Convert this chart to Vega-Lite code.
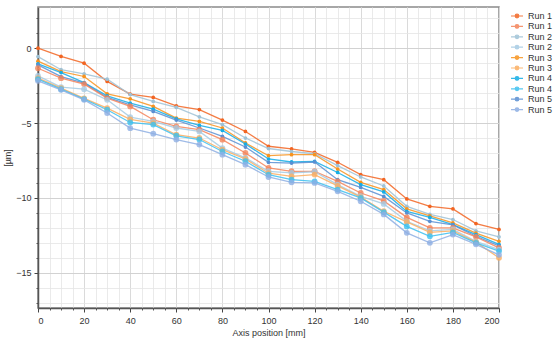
{
  "$schema": "https://vega.github.io/schema/vega-lite/v6.json",
  "width": 461,
  "height": 301,
  "autosize": {"type": "none"},
  "padding": {"left": 38, "top": 7, "right": 55, "bottom": 30},
  "background": "white",
  "config": {
    "view": {"stroke": "#8a8a8a", "strokeWidth": 1.5},
    "font": "Liberation Sans"
  },
  "datasets": {
    "runs": [
      {"run": "Run 1 (a)", "v": "a", "ys": [0, -0.55, -1.0, -2.22, -3.07, -3.29, -3.85, -4.1, -4.8, -5.56, -6.55, -6.73, -6.96, -7.62, -8.44, -8.78, -10.07, -10.56, -10.73, -11.71, -12.1]}
    ]
  },
  "data": {"values": [
    {"run":"Run 1 (a)","v":"a","x":0,"y":0},{"run":"Run 1 (a)","v":"a","x":10,"y":-0.55},{"run":"Run 1 (a)","v":"a","x":20,"y":-1.0},{"run":"Run 1 (a)","v":"a","x":30,"y":-2.22},{"run":"Run 1 (a)","v":"a","x":40,"y":-3.07},{"run":"Run 1 (a)","v":"a","x":50,"y":-3.29},{"run":"Run 1 (a)","v":"a","x":60,"y":-3.85},{"run":"Run 1 (a)","v":"a","x":70,"y":-4.1},{"run":"Run 1 (a)","v":"a","x":80,"y":-4.8},{"run":"Run 1 (a)","v":"a","x":90,"y":-5.56},{"run":"Run 1 (a)","v":"a","x":100,"y":-6.55},{"run":"Run 1 (a)","v":"a","x":110,"y":-6.73},{"run":"Run 1 (a)","v":"a","x":120,"y":-6.96},{"run":"Run 1 (a)","v":"a","x":130,"y":-7.62},{"run":"Run 1 (a)","v":"a","x":140,"y":-8.44},{"run":"Run 1 (a)","v":"a","x":150,"y":-8.78},{"run":"Run 1 (a)","v":"a","x":160,"y":-10.07},{"run":"Run 1 (a)","v":"a","x":170,"y":-10.56},{"run":"Run 1 (a)","v":"a","x":180,"y":-10.73},{"run":"Run 1 (a)","v":"a","x":190,"y":-11.71},{"run":"Run 1 (a)","v":"a","x":200,"y":-12.1},
    {"run":"Run 2 (a)","v":"a","x":0,"y":-0.56},{"run":"Run 2 (a)","v":"a","x":10,"y":-1.44},{"run":"Run 2 (a)","v":"a","x":20,"y":-1.71},{"run":"Run 2 (a)","v":"a","x":30,"y":-2.07},{"run":"Run 2 (a)","v":"a","x":40,"y":-3.1},{"run":"Run 2 (a)","v":"a","x":50,"y":-3.56},{"run":"Run 2 (a)","v":"a","x":60,"y":-3.96},{"run":"Run 2 (a)","v":"a","x":70,"y":-4.58},{"run":"Run 2 (a)","v":"a","x":80,"y":-5.11},{"run":"Run 2 (a)","v":"a","x":90,"y":-6.0},{"run":"Run 2 (a)","v":"a","x":100,"y":-6.7},{"run":"Run 2 (a)","v":"a","x":110,"y":-6.9},{"run":"Run 2 (a)","v":"a","x":120,"y":-7.05},{"run":"Run 2 (a)","v":"a","x":130,"y":-7.84},{"run":"Run 2 (a)","v":"a","x":140,"y":-8.6},{"run":"Run 2 (a)","v":"a","x":150,"y":-9.2},{"run":"Run 2 (a)","v":"a","x":160,"y":-10.56},{"run":"Run 2 (a)","v":"a","x":170,"y":-11.1},{"run":"Run 2 (a)","v":"a","x":180,"y":-11.44},{"run":"Run 2 (a)","v":"a","x":190,"y":-12.2},{"run":"Run 2 (a)","v":"a","x":200,"y":-12.6},
    {"run":"Run 3 (a)","v":"a","x":0,"y":-0.87},{"run":"Run 3 (a)","v":"a","x":10,"y":-1.56},{"run":"Run 3 (a)","v":"a","x":20,"y":-1.89},{"run":"Run 3 (a)","v":"a","x":30,"y":-3.05},{"run":"Run 3 (a)","v":"a","x":40,"y":-3.38},{"run":"Run 3 (a)","v":"a","x":50,"y":-3.89},{"run":"Run 3 (a)","v":"a","x":60,"y":-4.67},{"run":"Run 3 (a)","v":"a","x":70,"y":-4.89},{"run":"Run 3 (a)","v":"a","x":80,"y":-5.33},{"run":"Run 3 (a)","v":"a","x":90,"y":-6.33},{"run":"Run 3 (a)","v":"a","x":100,"y":-7.18},{"run":"Run 3 (a)","v":"a","x":110,"y":-7.11},{"run":"Run 3 (a)","v":"a","x":120,"y":-7.11},{"run":"Run 3 (a)","v":"a","x":130,"y":-8.07},{"run":"Run 3 (a)","v":"a","x":140,"y":-8.96},{"run":"Run 3 (a)","v":"a","x":150,"y":-9.44},{"run":"Run 3 (a)","v":"a","x":160,"y":-10.73},{"run":"Run 3 (a)","v":"a","x":170,"y":-11.2},{"run":"Run 3 (a)","v":"a","x":180,"y":-11.67},{"run":"Run 3 (a)","v":"a","x":190,"y":-12.35},{"run":"Run 3 (a)","v":"a","x":200,"y":-12.9},
    {"run":"Run 4 (a)","v":"a","x":0,"y":-1.05},{"run":"Run 4 (a)","v":"a","x":10,"y":-1.63},{"run":"Run 4 (a)","v":"a","x":20,"y":-2.3},{"run":"Run 4 (a)","v":"a","x":30,"y":-3.18},{"run":"Run 4 (a)","v":"a","x":40,"y":-3.67},{"run":"Run 4 (a)","v":"a","x":50,"y":-4.07},{"run":"Run 4 (a)","v":"a","x":60,"y":-4.72},{"run":"Run 4 (a)","v":"a","x":70,"y":-5.16},{"run":"Run 4 (a)","v":"a","x":80,"y":-5.49},{"run":"Run 4 (a)","v":"a","x":90,"y":-6.4},{"run":"Run 4 (a)","v":"a","x":100,"y":-7.4},{"run":"Run 4 (a)","v":"a","x":110,"y":-7.6},{"run":"Run 4 (a)","v":"a","x":120,"y":-7.56},{"run":"Run 4 (a)","v":"a","x":130,"y":-8.3},{"run":"Run 4 (a)","v":"a","x":140,"y":-9.11},{"run":"Run 4 (a)","v":"a","x":150,"y":-9.6},{"run":"Run 4 (a)","v":"a","x":160,"y":-10.9},{"run":"Run 4 (a)","v":"a","x":170,"y":-11.3},{"run":"Run 4 (a)","v":"a","x":180,"y":-11.78},{"run":"Run 4 (a)","v":"a","x":190,"y":-12.45},{"run":"Run 4 (a)","v":"a","x":200,"y":-13.1},
    {"run":"Run 5 (a)","v":"a","x":0,"y":-1.12},{"run":"Run 5 (a)","v":"a","x":10,"y":-1.9},{"run":"Run 5 (a)","v":"a","x":20,"y":-2.33},{"run":"Run 5 (a)","v":"a","x":30,"y":-3.29},{"run":"Run 5 (a)","v":"a","x":40,"y":-3.78},{"run":"Run 5 (a)","v":"a","x":50,"y":-4.22},{"run":"Run 5 (a)","v":"a","x":60,"y":-4.8},{"run":"Run 5 (a)","v":"a","x":70,"y":-5.33},{"run":"Run 5 (a)","v":"a","x":80,"y":-5.89},{"run":"Run 5 (a)","v":"a","x":90,"y":-6.6},{"run":"Run 5 (a)","v":"a","x":100,"y":-7.62},{"run":"Run 5 (a)","v":"a","x":110,"y":-7.67},{"run":"Run 5 (a)","v":"a","x":120,"y":-7.6},{"run":"Run 5 (a)","v":"a","x":130,"y":-8.78},{"run":"Run 5 (a)","v":"a","x":140,"y":-9.3},{"run":"Run 5 (a)","v":"a","x":150,"y":-9.9},{"run":"Run 5 (a)","v":"a","x":160,"y":-11.0},{"run":"Run 5 (a)","v":"a","x":170,"y":-11.56},{"run":"Run 5 (a)","v":"a","x":180,"y":-11.8},{"run":"Run 5 (a)","v":"a","x":190,"y":-12.56},{"run":"Run 5 (a)","v":"a","x":200,"y":-13.2},
    {"run":"Run 1 (b)","v":"b","x":0,"y":-1.34},{"run":"Run 1 (b)","v":"b","x":10,"y":-2.0},{"run":"Run 1 (b)","v":"b","x":20,"y":-2.4},{"run":"Run 1 (b)","v":"b","x":30,"y":-3.33},{"run":"Run 1 (b)","v":"b","x":40,"y":-3.89},{"run":"Run 1 (b)","v":"b","x":50,"y":-4.78},{"run":"Run 1 (b)","v":"b","x":60,"y":-5.22},{"run":"Run 1 (b)","v":"b","x":70,"y":-5.44},{"run":"Run 1 (b)","v":"b","x":80,"y":-6.11},{"run":"Run 1 (b)","v":"b","x":90,"y":-7.0},{"run":"Run 1 (b)","v":"b","x":100,"y":-8.0},{"run":"Run 1 (b)","v":"b","x":110,"y":-8.22},{"run":"Run 1 (b)","v":"b","x":120,"y":-8.22},{"run":"Run 1 (b)","v":"b","x":130,"y":-8.9},{"run":"Run 1 (b)","v":"b","x":140,"y":-9.67},{"run":"Run 1 (b)","v":"b","x":150,"y":-10.2},{"run":"Run 1 (b)","v":"b","x":160,"y":-11.3},{"run":"Run 1 (b)","v":"b","x":170,"y":-12.0},{"run":"Run 1 (b)","v":"b","x":180,"y":-12.0},{"run":"Run 1 (b)","v":"b","x":190,"y":-12.6},{"run":"Run 1 (b)","v":"b","x":200,"y":-13.33},
    {"run":"Run 2 (b)","v":"b","x":0,"y":-1.85},{"run":"Run 2 (b)","v":"b","x":10,"y":-2.6},{"run":"Run 2 (b)","v":"b","x":20,"y":-2.74},{"run":"Run 2 (b)","v":"b","x":30,"y":-3.45},{"run":"Run 2 (b)","v":"b","x":40,"y":-4.6},{"run":"Run 2 (b)","v":"b","x":50,"y":-4.89},{"run":"Run 2 (b)","v":"b","x":60,"y":-5.33},{"run":"Run 2 (b)","v":"b","x":70,"y":-5.56},{"run":"Run 2 (b)","v":"b","x":80,"y":-6.67},{"run":"Run 2 (b)","v":"b","x":90,"y":-7.33},{"run":"Run 2 (b)","v":"b","x":100,"y":-8.22},{"run":"Run 2 (b)","v":"b","x":110,"y":-8.33},{"run":"Run 2 (b)","v":"b","x":120,"y":-8.25},{"run":"Run 2 (b)","v":"b","x":130,"y":-9.11},{"run":"Run 2 (b)","v":"b","x":140,"y":-9.89},{"run":"Run 2 (b)","v":"b","x":150,"y":-10.4},{"run":"Run 2 (b)","v":"b","x":160,"y":-11.56},{"run":"Run 2 (b)","v":"b","x":170,"y":-12.2},{"run":"Run 2 (b)","v":"b","x":180,"y":-12.1},{"run":"Run 2 (b)","v":"b","x":190,"y":-12.9},{"run":"Run 2 (b)","v":"b","x":200,"y":-13.45},
    {"run":"Run 3 (b)","v":"b","x":0,"y":-2.0},{"run":"Run 3 (b)","v":"b","x":10,"y":-2.67},{"run":"Run 3 (b)","v":"b","x":20,"y":-3.35},{"run":"Run 3 (b)","v":"b","x":30,"y":-4.0},{"run":"Run 3 (b)","v":"b","x":40,"y":-4.75},{"run":"Run 3 (b)","v":"b","x":50,"y":-5.0},{"run":"Run 3 (b)","v":"b","x":60,"y":-5.78},{"run":"Run 3 (b)","v":"b","x":70,"y":-6.0},{"run":"Run 3 (b)","v":"b","x":80,"y":-6.78},{"run":"Run 3 (b)","v":"b","x":90,"y":-7.4},{"run":"Run 3 (b)","v":"b","x":100,"y":-8.35},{"run":"Run 3 (b)","v":"b","x":110,"y":-8.56},{"run":"Run 3 (b)","v":"b","x":120,"y":-8.44},{"run":"Run 3 (b)","v":"b","x":130,"y":-9.2},{"run":"Run 3 (b)","v":"b","x":140,"y":-9.95},{"run":"Run 3 (b)","v":"b","x":150,"y":-10.89},{"run":"Run 3 (b)","v":"b","x":160,"y":-11.6},{"run":"Run 3 (b)","v":"b","x":170,"y":-12.3},{"run":"Run 3 (b)","v":"b","x":180,"y":-12.2},{"run":"Run 3 (b)","v":"b","x":190,"y":-12.95},{"run":"Run 3 (b)","v":"b","x":200,"y":-14.0},
    {"run":"Run 4 (b)","v":"b","x":0,"y":-2.07},{"run":"Run 4 (b)","v":"b","x":10,"y":-2.74},{"run":"Run 4 (b)","v":"b","x":20,"y":-3.4},{"run":"Run 4 (b)","v":"b","x":30,"y":-4.11},{"run":"Run 4 (b)","v":"b","x":40,"y":-4.96},{"run":"Run 4 (b)","v":"b","x":50,"y":-5.1},{"run":"Run 4 (b)","v":"b","x":60,"y":-5.85},{"run":"Run 4 (b)","v":"b","x":70,"y":-6.1},{"run":"Run 4 (b)","v":"b","x":80,"y":-6.9},{"run":"Run 4 (b)","v":"b","x":90,"y":-7.55},{"run":"Run 4 (b)","v":"b","x":100,"y":-8.45},{"run":"Run 4 (b)","v":"b","x":110,"y":-8.78},{"run":"Run 4 (b)","v":"b","x":120,"y":-8.9},{"run":"Run 4 (b)","v":"b","x":130,"y":-9.44},{"run":"Run 4 (b)","v":"b","x":140,"y":-10.0},{"run":"Run 4 (b)","v":"b","x":150,"y":-10.95},{"run":"Run 4 (b)","v":"b","x":160,"y":-11.9},{"run":"Run 4 (b)","v":"b","x":170,"y":-12.56},{"run":"Run 4 (b)","v":"b","x":180,"y":-12.3},{"run":"Run 4 (b)","v":"b","x":190,"y":-13.0},{"run":"Run 4 (b)","v":"b","x":200,"y":-13.55},
    {"run":"Run 5 (b)","v":"b","x":0,"y":-2.18},{"run":"Run 5 (b)","v":"b","x":10,"y":-2.78},{"run":"Run 5 (b)","v":"b","x":20,"y":-3.45},{"run":"Run 5 (b)","v":"b","x":30,"y":-4.33},{"run":"Run 5 (b)","v":"b","x":40,"y":-5.34},{"run":"Run 5 (b)","v":"b","x":50,"y":-5.71},{"run":"Run 5 (b)","v":"b","x":60,"y":-6.1},{"run":"Run 5 (b)","v":"b","x":70,"y":-6.44},{"run":"Run 5 (b)","v":"b","x":80,"y":-7.11},{"run":"Run 5 (b)","v":"b","x":90,"y":-7.78},{"run":"Run 5 (b)","v":"b","x":100,"y":-8.6},{"run":"Run 5 (b)","v":"b","x":110,"y":-8.96},{"run":"Run 5 (b)","v":"b","x":120,"y":-9.0},{"run":"Run 5 (b)","v":"b","x":130,"y":-9.56},{"run":"Run 5 (b)","v":"b","x":140,"y":-10.22},{"run":"Run 5 (b)","v":"b","x":150,"y":-11.1},{"run":"Run 5 (b)","v":"b","x":160,"y":-12.33},{"run":"Run 5 (b)","v":"b","x":170,"y":-13.0},{"run":"Run 5 (b)","v":"b","x":180,"y":-12.45},{"run":"Run 5 (b)","v":"b","x":190,"y":-13.1},{"run":"Run 5 (b)","v":"b","x":200,"y":-13.8}
  ]},
  "layer": [
    {
      "mark": {"type": "line", "strokeWidth": 1.3, "opacity": 0.85},
      "encoding": {
        "x": {"field": "x", "type": "quantitative", "scale": {"domain": [0, 200], "nice": false, "zero": false},
          "axis": {"orient": "bottom", "values": [0,5,10,15,20,25,30,35,40,45,50,55,60,65,70,75,80,85,90,95,100,105,110,115,120,125,130,135,140,145,150,155,160,165,170,175,180,185,190,195,200],
            "grid": true, "gridColor": "#e4e4e4", "gridWidth": 0.8, "labels": false, "ticks": true, "tickSize": 2, "tickColor": "#555", "domain": false, "title": null}},
        "y": {"field": "y", "type": "quantitative", "scale": {"domain": [-17.35, 2.75], "nice": false, "zero": false},
          "axis": {"orient": "left", "values": [-17,-16,-15,-14,-13,-12,-11,-10,-9,-8,-7,-6,-5,-4,-3,-2,-1,0,1,2],
            "grid": true, "gridColor": "#e4e4e4", "gridWidth": 0.8, "labels": false, "ticks": true, "tickSize": 2, "tickColor": "#555", "domain": false, "title": null}},
        "color": {"field": "run", "type": "nominal",
          "scale": {"domain": ["Run 1 (a)","Run 1 (b)","Run 2 (a)","Run 2 (b)","Run 3 (a)","Run 3 (b)","Run 4 (a)","Run 4 (b)","Run 5 (a)","Run 5 (b)"],
            "range": ["#f26522","#f4845a","#9fc2d6","#a6cbe3","#f7931e","#fbae60","#14ade6","#3cc0f0","#5a8fd2","#8eafe3"]},
          "legend": {"title": null, "orient": "none", "legendX": 474, "legendY": 4, "padding": 0,
            "symbolType": "M-1.5,0H1.5M-0.45,0A0.45,0.45,0,1,1,0.45,0A0.45,0.45,0,1,1,-0.45,0",
            "symbolSize": 64, "symbolStrokeWidth": 1.2, "labelFontSize": 9, "labelColor": "#333", "labelOffset": 6,
            "rowPadding": 0.4, "labelLimit": 300,
            "encode": {"symbols": {"update": {"fill": {"scale": "color", "field": "value"}, "stroke": {"scale": "color", "field": "value"}, "opacity": {"value": 1}}}}}}
      }
    },
    {
      "mark": {"type": "point", "filled": true},
      "encoding": {
        "x": {"field": "x", "type": "quantitative",
          "axis": {"orient": "bottom", "values": [0,20,40,60,80,100,120,140,160,180,200], "grid": true, "gridColor": "#d6d6d6", "gridWidth": 0.8,
            "labelFontSize": 9, "labelColor": "#333", "tickSize": 4, "tickColor": "#444", "labelPadding": 4,
            "domain": true, "domainColor": "#555", "domainWidth": 1.5,
            "title": "Axis position [mm]", "titleFontSize": 9, "titleFontWeight": "normal", "titleColor": "#333", "titlePadding": 3}},
        "y": {"field": "y", "type": "quantitative",
          "axis": {"orient": "left", "values": [-15, -10, -5, 0], "grid": true, "gridColor": "#cfcfcf", "gridWidth": 0.9,
            "labelFontSize": 9, "labelColor": "#333", "tickSize": 4, "tickColor": "#444", "labelPadding": 3,
            "domain": true, "domainColor": "#555", "domainWidth": 1.5,
            "title": "[µm]", "titleFontSize": 9, "titleFontWeight": "normal", "titleColor": "#333", "titlePadding": 3}},
        "color": {"field": "run", "type": "nominal",
          "legend": {"title": null, "orient": "none", "legendX": 474, "legendY": 4, "padding": 0,
            "symbolType": "M-1.5,0H1.5M-0.45,0A0.45,0.45,0,1,1,0.45,0A0.45,0.45,0,1,1,-0.45,0",
            "symbolSize": 64, "symbolStrokeWidth": 1.2, "labelFontSize": 9, "labelColor": "#333", "labelOffset": 6,
            "rowPadding": 0.4, "labelLimit": 300,
            "encode": {"symbols": {"update": {"fill": {"scale": "color", "field": "value"}, "stroke": {"scale": "color", "field": "value"}, "opacity": {"value": 1}}}}}},
        "size": {"field": "v", "type": "nominal", "scale": {"domain": ["a", "b"], "range": [14, 34]}, "legend": null},
        "opacity": {"field": "v", "type": "nominal", "scale": {"domain": ["a", "b"], "range": [1, 0.8]}, "legend": null}
      }
    }
  ],
  "resolve": {"axis": {"x": "independent", "y": "independent"}}
}
